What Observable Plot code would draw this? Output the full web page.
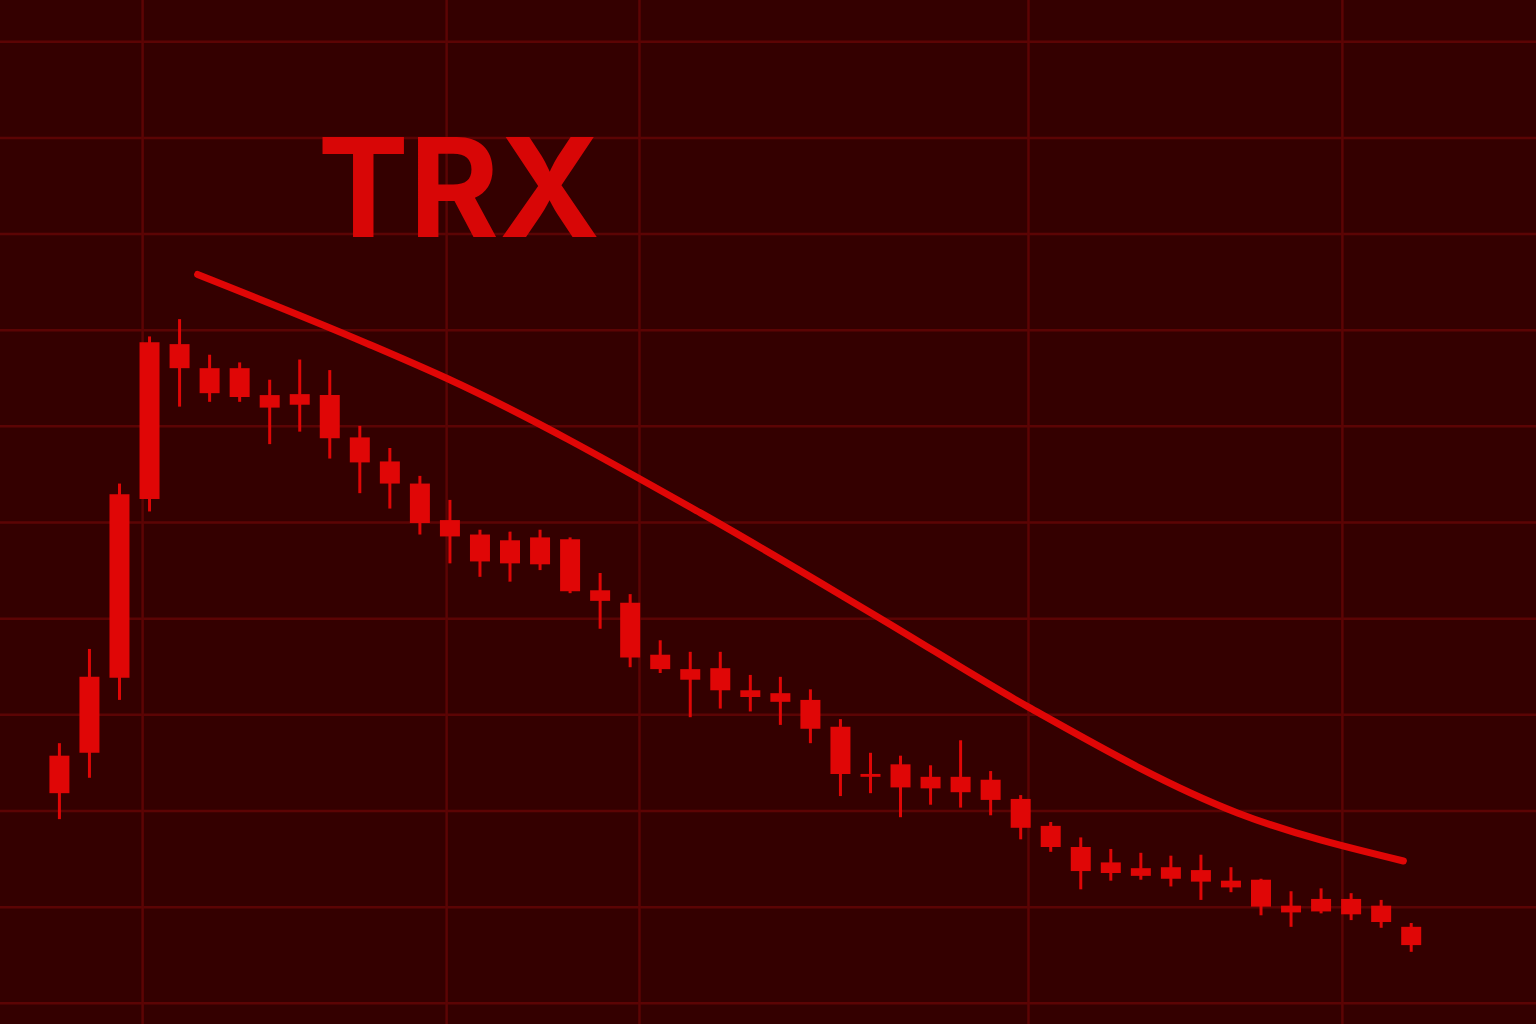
<!DOCTYPE html>
<html>
<head>
<meta charset="utf-8">
<script src="https://cdn.jsdelivr.net/npm/d3@7"></script>
<script src="https://cdn.jsdelivr.net/npm/@observablehq/plot@0.6"></script>
<style>
  html, body { margin: 0; padding: 0; background: #340000; overflow: hidden; }
  #chart svg { display: block; }
</style>
</head>
<body>
<div id="chart"></div>
<script>
// ---- data (TRX daily candles, USD) ----
const title = "TRX";
const open = [0.2218, 0.2260, 0.2338, 0.2524, 0.2685, 0.2660, 0.2660, 0.2632, 0.2633, 0.2632,
  0.2588, 0.2563, 0.2540, 0.2502, 0.2487, 0.2481, 0.2484, 0.2482, 0.2429, 0.2416,
  0.2362, 0.2347, 0.2348, 0.2325, 0.2322, 0.2315, 0.2287, 0.2238, 0.2248, 0.2235,
  0.2235, 0.2232, 0.2212, 0.2184, 0.2162, 0.2146, 0.2140, 0.2141, 0.2138, 0.2127,
  0.2128, 0.2101, 0.2108, 0.2108, 0.2101, 0.2079];
const close = [0.2257, 0.2339, 0.2529, 0.2687, 0.2660, 0.2634, 0.2630, 0.2619, 0.2622, 0.2587,
  0.2562, 0.2540, 0.2499, 0.2485, 0.2459, 0.2457, 0.2456, 0.2428, 0.2418, 0.2359,
  0.2347, 0.2336, 0.2325, 0.2318, 0.2313, 0.2285, 0.2238, 0.2235, 0.2224, 0.2223,
  0.2219, 0.2211, 0.2182, 0.2162, 0.2137, 0.2135, 0.2132, 0.2129, 0.2126, 0.2120,
  0.2100, 0.2094, 0.2095, 0.2092, 0.2084, 0.2060];
const high = [0.2270, 0.2368, 0.2540, 0.2693, 0.2711, 0.2674, 0.2666, 0.2648, 0.2669, 0.2658,
  0.2600, 0.2577, 0.2548, 0.2523, 0.2492, 0.2490, 0.2492, 0.2484, 0.2447, 0.2425,
  0.2377, 0.2365, 0.2365, 0.2341, 0.2339, 0.2326, 0.2295, 0.2260, 0.2257, 0.2247,
  0.2273, 0.2241, 0.2216, 0.2188, 0.2172, 0.2160, 0.2156, 0.2153, 0.2154, 0.2141,
  0.2129, 0.2116, 0.2119, 0.2114, 0.2107, 0.2083];
const low = [0.2191, 0.2234, 0.2315, 0.2511, 0.2620, 0.2625, 0.2625, 0.2581, 0.2594, 0.2566,
  0.2530, 0.2514, 0.2487, 0.2457, 0.2443, 0.2438, 0.2450, 0.2426, 0.2389, 0.2349,
  0.2343, 0.2297, 0.2306, 0.2303, 0.2289, 0.2270, 0.2215, 0.2218, 0.2193, 0.2206,
  0.2203, 0.2195, 0.2170, 0.2157, 0.2118, 0.2127, 0.2128, 0.2121, 0.2107, 0.2115,
  0.2091, 0.2079, 0.2093, 0.2086, 0.2078, 0.2053];

// smoothed downtrend line (day index, price)
const trendDay = [4.6, 10.26, 12.89, 21.34, 27.34, 32.26, 39.22, 44.74];
const trendPrice = [0.2758, 0.2686, 0.2650, 0.2510, 0.2400, 0.2308, 0.2198, 0.2148];

// grid positions
const gridPrice = [0.20, 0.21, 0.22, 0.23, 0.24, 0.25, 0.26, 0.27, 0.28, 0.29, 0.30];
const gridDay = [2.77, 12.89, 19.31, 32.26, 42.71];

// ---- build ----
const candles = open.map((o, i) => ({day: i, open: o, close: close[i], high: high[i], low: low[i]}));
const trend = trendDay.map((d, i) => ({day: d, price: trendPrice[i]}));

const RED = "#e00606";
const chart = Plot.plot({
  width: 1536,
  height: 1024,
  margin: 0,
  style: {background: "#340000"},
  x: {domain: [-1.961, 49.171], axis: null},
  y: {domain: [0.197794, 0.30429], axis: null},
  marks: [
    Plot.ruleY(gridPrice, {stroke: "#5c0404", strokeWidth: 2.5}),
    Plot.ruleX(gridDay, {stroke: "#5c0404", strokeWidth: 2.5}),
    Plot.text([title], {frameAnchor: "top-left", dx: 317, dy: 236, lineAnchor: "bottom", textAnchor: "start",
      fontFamily: "Inter", fontWeight: 700, fontSize: 137, fill: "#d80606",
      style: "letter-spacing: 3px"}),
    Plot.line(trend, {x: "day", y: "price", curve: "monotone-x", stroke: RED, strokeWidth: 7, strokeLinecap: "round"}),
    Plot.ruleX(candles, {x: "day", y1: "low", y2: "high", stroke: RED, strokeWidth: 3}),
    Plot.ruleX(candles, {x: "day", y1: "open", y2: "close", stroke: RED, strokeWidth: 20})
  ]
});
document.getElementById("chart").append(chart);
</script>
</body>
</html>
